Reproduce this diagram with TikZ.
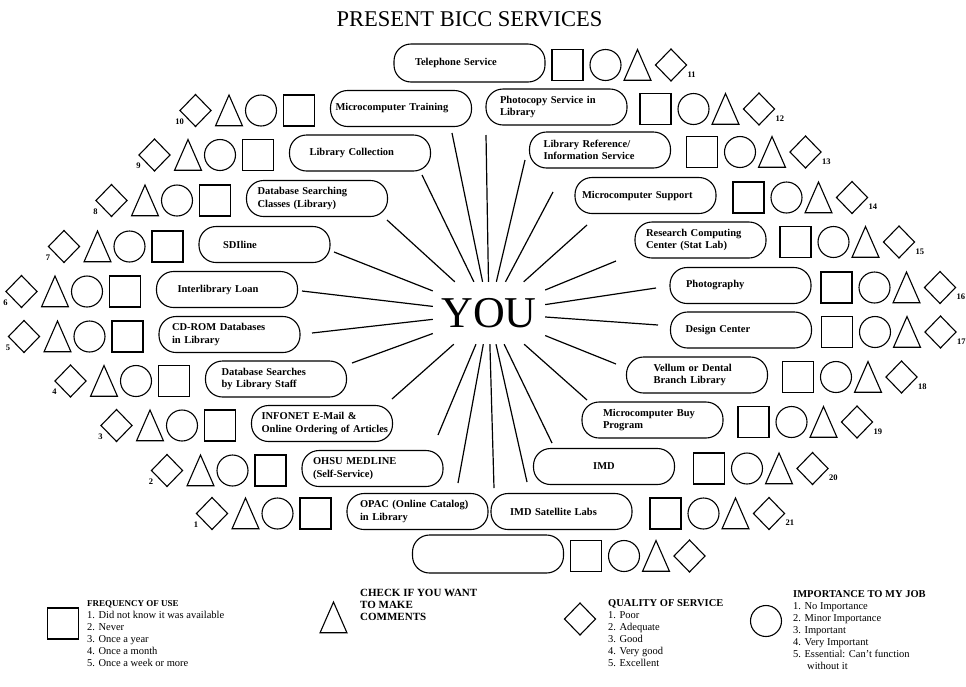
\documentclass[tikz,border=0pt]{standalone}
\usepackage{fontspec}
\setmainfont{Liberation Serif}
\usetikzlibrary{positioning,shapes.geometric}

\tikzset{
  svc/.style={draw, line width=1.1pt, rounded corners=17pt, minimum width=141pt,
    minimum height=36pt, inner xsep=0pt, inner ysep=1pt, outer sep=0pt,
    text width=#1, align=left, font=\fontsize{10.5}{12.5}\selectfont\bfseries},
  svc/.default=101pt,
  sq/.style={draw, line width=1.1pt, minimum size=31pt, inner sep=0pt, outer sep=0pt},
  ring/.style={draw, circle, line width=1.1pt, minimum size=31pt, inner sep=0pt, outer sep=0pt},
  tri/.style={draw, regular polygon, regular polygon sides=3, line width=1.1pt,
    minimum size=31pt, inner sep=0pt, outer sep=0pt, yscale=1.32},
  dia/.style={draw, diamond, line width=1.1pt, minimum width=31pt, minimum height=32pt,
    inner sep=0pt, outer sep=0pt},
  num/.style={inner sep=0pt, font=\fontsize{8.5}{9}\selectfont\bfseries},
  spoke/.style={line width=1.2pt},
  key/.style={anchor=north west, align=left, inner sep=0pt, font=\fontsize{10.5}{12}\selectfont}
}

\begin{document}
\begin{tikzpicture}[x=1pt,y=-1pt]
  \useasboundingbox (0,0) rectangle (966,686);
  \node (title) at (469.5,19) {\fontsize{22.5}{24}\selectfont PRESENT BICC SERVICES};
  \node[minimum width=112pt, minimum height=62pt, inner sep=0pt,
    font=\fontsize{44}{44}\selectfont] (you) at (489,313) {YOU};

  % services, left half
  \node[svc=115pt] (s1) at (417.5,511.5) {OPAC (Online Catalog)\\in Library};
  \node[svc=119pt] (s2) at (372.5,468.5) {OHSU MEDLINE\\(Self-Service)};
  \node[svc=121pt] (s3) at (322,423.5) {INFONET E-Mail \&\\\mbox{Online Ordering of Articles}};
  \node[svc=109pt] (s4) at (276,379) {Database Searches\\by Library Staff};
  \node[svc=115pt] (s5) at (229.5,334.5) {CD-ROM Databases\\in Library};
  \node[svc=99pt] (s6) at (227,289.5) {Interlibrary Loan};
  \node[svc=83pt, minimum width=131pt] (s7) at (264.5,244.5) {SDIline};
  \node[svc=119pt] (s8) at (317,198.5) {Database Searching\\Classes (Library)};
  \node[svc=101pt] (s9) at (360,153) {Library Collection};
  \node[svc=131pt] (s10) at (401,108.5) {Microcomputer Training};
  % services, right half
  \node[svc=109pt, minimum width=151pt, minimum height=38pt] (s11) at (469.5,63) {Telephone Service};
  \node[svc=113pt] (s12) at (556.5,107) {Photocopy Service in\\Library};
  \node[svc=113pt] (s13) at (600,150) {Library Reference/\\Information Service};
  \node[svc=127pt] (s14) at (645.5,195.5) {Microcomputer Support};
  \node[svc=109pt, minimum width=131pt] (s15) at (700.5,240) {Research Computing\\Center (Stat Lab)};
  \node[svc=109pt] (s16) at (740.5,285.5) {Photography};
  \node[svc=111pt] (s17) at (741,330) {Design Center};
  \node[svc=87pt] (s18) at (697,375) {Vellum or Dental\\Branch Library};
  \node[svc=99pt] (s19) at (652.5,420) {Microcomputer Buy\\Program};
  \node[svc=101pt, align=center] (s20) at (604,466.5) {IMD};
  \node[svc=103pt] (s21) at (561.5,511.5) {IMD Satellite Labs};
  \node[svc, minimum width=151pt, minimum height=38pt] (s0) at (488,554) {};

  % check shapes
  \foreach \i in {1,...,10} {
    \node[sq, left=16pt of s\i, yshift=-2pt] (q\i) {};
    \node[ring] (c\i) at ([xshift=-38pt]q\i) {};
    \node[tri] (t\i) at ([shift={(-70pt,-5pt)}]q\i) {};
    \node[dia] (d\i) at ([xshift=-103.5pt]q\i) {};
    \node[num] (n\i) at ([shift={(-16pt,-11pt)}]d\i) {\i};
  }
  \foreach \i/\g in {11/7pt,12/13pt,13/16pt,14/17pt,15/14pt,16/10pt,17/10pt,18/15pt,19/15pt,20/19pt,21/18pt} {
    \node[sq, right=\g of s\i, yshift=-2pt] (q\i) {};
    \node[ring] (c\i) at ([xshift=38pt]q\i) {};
    \node[tri] (t\i) at ([shift={(70pt,-5pt)}]q\i) {};
    \node[dia] (d\i) at ([xshift=103.5pt]q\i) {};
    \node[num, anchor=west] (n\i) at ([shift={(1pt,-9.5pt)}]d\i.east) {\i};
  }
  \node[sq, right=7pt of s0, yshift=-2pt] (q0) {};
  \node[ring] (c0) at ([xshift=38pt]q0) {};
  \node[tri] (t0) at ([shift={(70pt,-5pt)}]q0) {};
  \node[dia] (d0) at ([xshift=103.5pt]q0) {};

  % spokes
  \foreach \i/\x/\y in {1/458/483, 2/438/435, 3/392/399, 4/352/363, 5/312/333, 6/302/291,
      7/334/252, 8/387/220, 9/422/175, 10/452/133, 11/486/135, 12/525/160, 13/553/192,
      14/587/225, 15/616/261, 16/656/288, 17/658/325, 18/616/364, 19/587/400,
      20/552/443, 21/527/482, 0/494/488} {
    \coordinate (e\i) at (\x,\y);
    \draw[spoke] (you) -- (e\i);
  }

  % key
  \node[sq] (kq) at (63,623.5) {};
  \node[key] (kqt) at (87,600) {{\fontsize{9}{12}\selectfont\bfseries FREQUENCY OF USE}\\
    1. Did not know it was available\\2. Never\\3. Once a year\\4. Once a month\\5. Once a week or more};
  \node[tri] (kt) at (333.5,622.5) {};
  \node[key, font=\fontsize{11}{12}\selectfont\bfseries] (ktt) at (360,589) {CHECK IF YOU WANT\\TO MAKE\\COMMENTS};
  \node[dia] (kd) at (580,619) {};
  \node[key] (kdt) at (608,599) {{\fontsize{10.5}{12}\selectfont\bfseries QUALITY OF SERVICE}\\
    1. Poor\\2. Adequate\\3. Good\\4. Very good\\5. Excellent};
  \node[ring] (kc) at (766,621) {};
  \node[key] (kct) at (793,590) {{\fontsize{10.5}{12}\selectfont\bfseries IMPORTANCE TO MY JOB}\\
    1. No Importance\\2. Minor Importance\\3. Important\\4. Very Important\\
    5. Essential: Can't function\\\hspace*{14pt}without it};
\end{tikzpicture}
\end{document}
